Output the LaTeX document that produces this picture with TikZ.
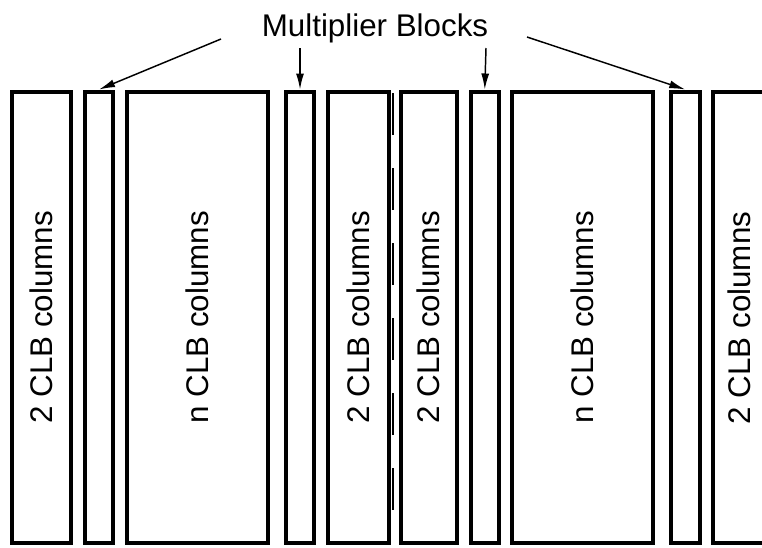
\documentclass[tikz,border=0pt]{standalone}
\usepackage{fontspec}
\setmainfont{Liberation Sans}
\usetikzlibrary{fit,arrows.meta}
\begin{document}
\begin{tikzpicture}[x=0.75pt,y=-0.75pt,
  colbox/.style={draw=black, line width=3pt, inner sep=0pt, rectangle},
  collabel/.style={rotate=90, font=\fontsize{23.5pt}{28pt}\selectfont, inner sep=0pt},
  pointer/.style={line width=1.1pt, -{Latex[length=12pt,width=6pt]}},
  sep/.style={line width=1.1pt, dash pattern=on 31.5pt off 24.75pt}]
\useasboundingbox (0,0) rectangle (762,547);
% columns
\node[colbox, fit={(12,91.5) (71,543)}]    (b1) {};
\node[colbox, fit={(85,91.5) (113,543)}]   (b2) {};
\node[colbox, fit={(127,91.5) (268,543)}]  (b3) {};
\node[colbox, fit={(286,91.5) (314,543)}]  (b4) {};
\node[colbox, fit={(327.5,91.5) (388.5,543)}] (b5) {};
\node[colbox, fit={(401,91.5) (456.5,543)}]   (b6) {};
\node[colbox, fit={(471,91.5) (498.5,543)}]   (b7) {};
\node[colbox, fit={(512,91.5) (653,543)}]  (b8) {};
\node[colbox, fit={(671,91.5) (699.5,543)}]   (b9) {};
\node[colbox, fit={(713,91.5) (780,543)}]  (b10) {};
% labels
\node[collabel] (l1) at (b1.center) {2 CLB columns};
\node[collabel] (l3) at (b3.center) {n CLB columns};
\node[collabel] (l5) at (b5.center) {2 CLB columns};
\node[collabel] (l6) at (b6.center) {2 CLB columns};
\node[collabel] (l8) at (b8.center) {n CLB columns};
\node[collabel] (l10) at (739,318) {2 CLB columns};
% separator
\coordinate (d1) at (393,93);
\coordinate (d2) at (393,510);
\draw[sep] (d1) -- (d2);
% title and pointers
\node[font=\fontsize{23.5pt}{28pt}\selectfont, inner sep=0pt, anchor=base] (title) at (375,36) {Multiplier Blocks};
\coordinate (s1) at (221,39);
\coordinate (s2) at (300,48);
\coordinate (s3) at (486,48);
\coordinate (s4) at (527,37);
\draw[pointer] (s1) -- (b2.north);
\draw[pointer] (s2) -- (b4.north);
\draw[pointer] (s3) -- (b7.north);
\draw[pointer] (s4) -- (b9.north);
\end{tikzpicture}
\end{document}
